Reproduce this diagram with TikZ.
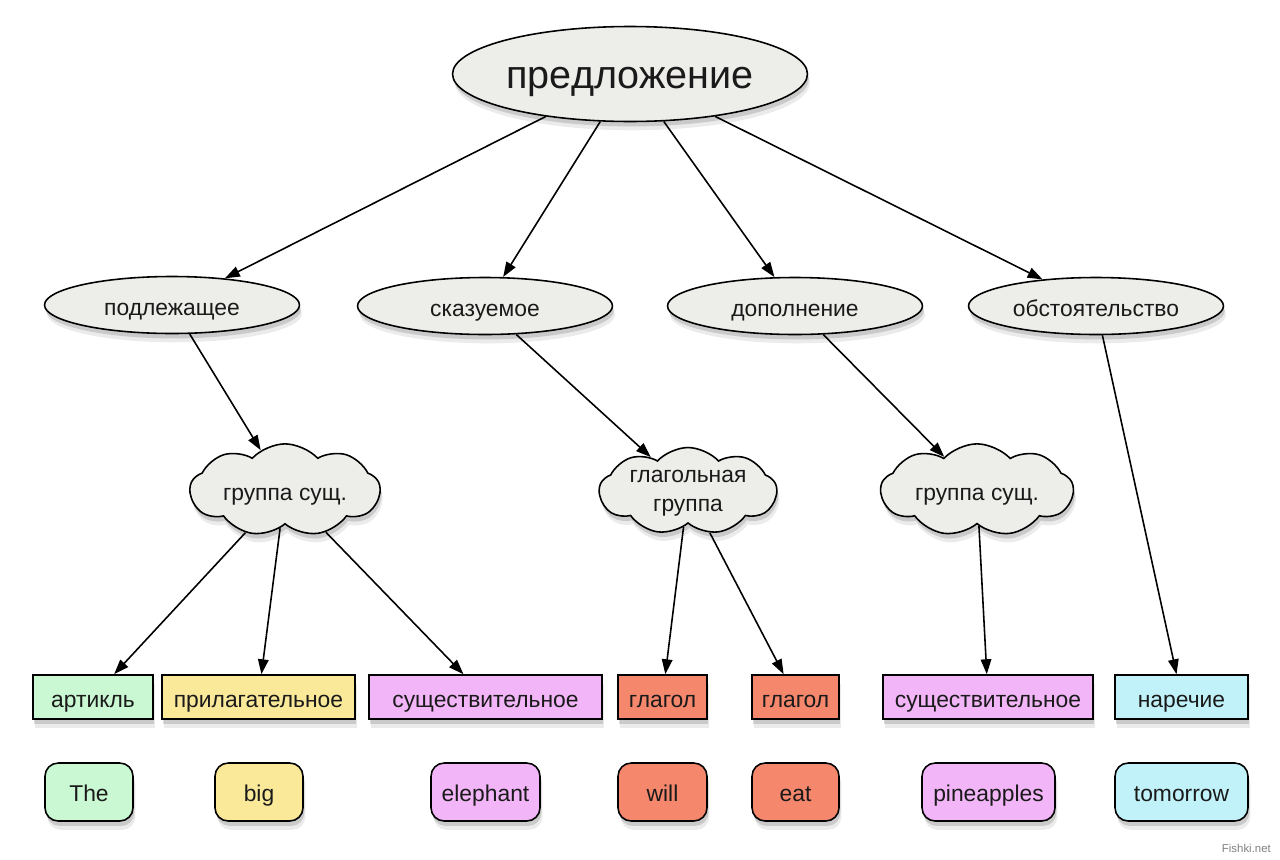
\documentclass[tikz,border=0pt]{standalone}
\usepackage{fontspec}
\setmainfont{Liberation Sans}
\usetikzlibrary{shapes.geometric,shapes.symbols,shadows,arrows.meta}
\definecolor{ellfill}{HTML}{EDEDEA}
\definecolor{txt}{HTML}{1A1A1A}
\definecolor{mint}{HTML}{C9F8D3}
\definecolor{yel}{HTML}{FBE99A}
\definecolor{vio}{HTML}{F2B5F7}
\definecolor{sal}{HTML}{F5876D}
\definecolor{cya}{HTML}{C2F2F9}
\begin{document}
\begin{tikzpicture}[x=0.02cm,y=-0.02cm,
  shad/.style={drop shadow={shadow xshift=1.4pt,shadow yshift=-5pt,opacity=0.08,fill=black},
               drop shadow={shadow xshift=0.8pt,shadow yshift=-2.8pt,opacity=0.14,fill=black}},
  base/.style={draw=black,line width=0.9pt,inner sep=0pt,shad,text=txt,font=\fontsize{13}{17}\selectfont},
  one/.style={text height=12pt,text depth=0.4pt},
  ell/.style={base,one,ellipse,fill=ellfill},
  lvl/.style={ell,minimum width=5.1cm,minimum height=1.14cm},
  cl/.style={base,cloud,cloud puffs=9,cloud puff arc=95,aspect=2.5,fill=ellfill,align=center,minimum height=1.25cm},
  posbox/.style={base,one,rectangle,minimum height=0.88cm},
  wordbox/.style={base,rectangle,rounded corners=7.5pt,minimum height=1.16cm,text height=10.6pt,text depth=0pt},
  arr/.style={line width=0.9pt,-{Triangle[length=8.5pt,width=6pt]}}
]
\useasboundingbox (0,0) rectangle (1280,859);
% top
\node[ell,minimum width=7.1cm,minimum height=1.9cm,font=\fontsize{22.5}{26}\selectfont,text height=17pt,text depth=0pt] (top) at (630,74) {предложение};
% level 2
\node[lvl] (pod) at (172,305) {подлежащее};
\node[lvl] (ska) at (485,306) {сказуемое};
\node[lvl] (dop) at (795,306) {дополнение};
\node[lvl] (obs) at (1096,306) {обстоятельство};
% clouds
\node[cl,one,minimum width=3.8cm] (g1) at (285,490) {группа сущ.};
\node[cl,minimum width=3.55cm,text height=23.8pt,text depth=0pt] (g2) at (688,491) {глагольная\\группа};
\node[cl,one,minimum width=3.85cm] (g3) at (977,490) {группа сущ.};
% parts of speech
\node[posbox,fill=mint,minimum width=2.4cm] (art) at (93,697) {артикль};
\node[posbox,fill=yel,minimum width=3.86cm] (adj) at (258.5,697) {прилагательное};
\node[posbox,fill=vio,minimum width=4.66cm] (noun1) at (485.5,697) {существительное};
\node[posbox,fill=sal,minimum width=1.78cm] (verb1) at (662.5,697) {глагол};
\node[posbox,fill=sal,minimum width=1.74cm] (verb2) at (795.5,697) {глагол};
\node[posbox,fill=vio,minimum width=4.2cm] (noun2) at (988,697) {существительное};
\node[posbox,fill=cya,minimum width=2.66cm] (adv) at (1181.5,697) {наречие};
% words
\node[wordbox,fill=mint,minimum width=1.76cm] (w1) at (89,792) {The};
\node[wordbox,fill=yel,minimum width=1.76cm] (w2) at (259,792) {big};
\node[wordbox,fill=vio,minimum width=2.18cm] (w3) at (485.5,792) {elephant};
\node[wordbox,fill=sal,minimum width=1.78cm] (w4) at (662.5,792) {will};
\node[wordbox,fill=sal,minimum width=1.74cm] (w5) at (795.5,792) {eat};
\node[wordbox,fill=vio,minimum width=2.66cm] (w6) at (988.5,792) {pineapples};
\node[wordbox,fill=cya,minimum width=2.66cm] (w7) at (1181.5,792) {tomorrow};
% watermark
\node[font=\fontsize{6.5}{8}\selectfont,text=gray,anchor=east] (wm) at (1277,848) {Fishki.net};
% connectors
\draw[arr] (top) -- (pod);
\draw[arr] (top) -- (ska);
\draw[arr] (top) -- (dop);
\draw[arr] (top) -- (obs);
\draw[arr] (pod) -- (g1);
\draw[arr] (ska) -- (g2);
\draw[arr] (dop) -- (g3);
\draw[arr] (obs) -- (adv);
\draw[arr] (g1) -- (art);
\draw[arr] (g1) -- (adj);
\draw[arr] (g1) -- (noun1);
\draw[arr] (g2) -- (verb1);
\draw[arr] (g2) -- (verb2);
\draw[arr] (g3) -- (noun2);
\end{tikzpicture}
\end{document}
